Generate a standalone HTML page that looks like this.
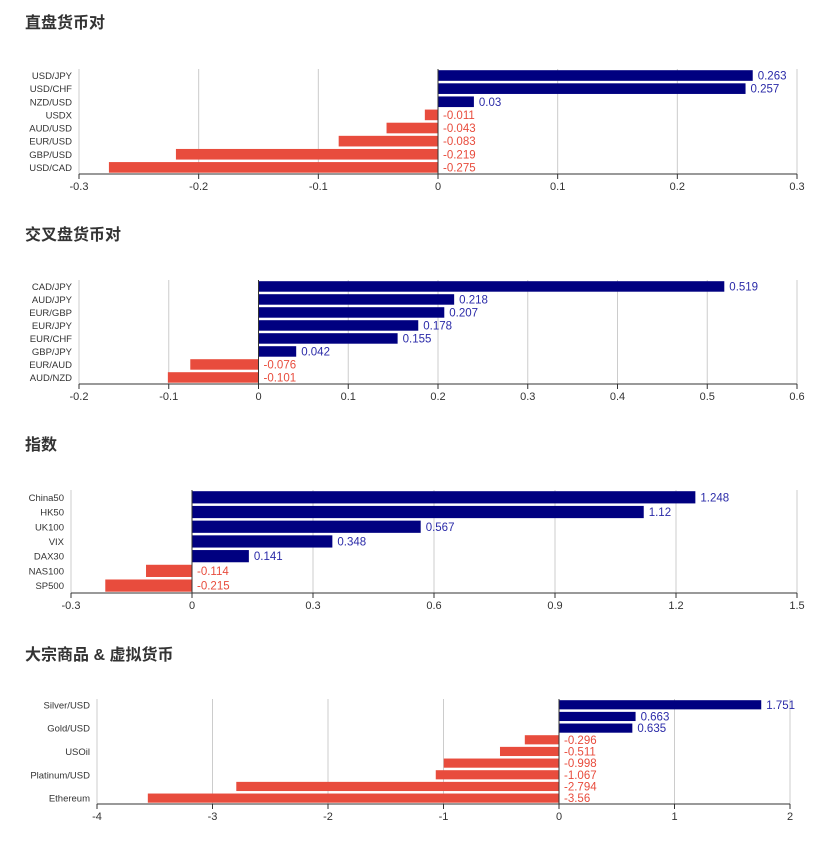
<!DOCTYPE html>
<html><head><meta charset="utf-8"><style>
body{margin:0;background:#fff;width:831px;height:855px;overflow:hidden}
svg{display:block}
</style></head><body>
<svg id="s" width="831" height="855" xmlns="http://www.w3.org/2000/svg" font-family="Liberation Sans, Noto Sans CJK SC, sans-serif">
<text x="25" y="28" font-size="16" font-weight="bold" fill="#333">直盘货币对</text>
<text x="25" y="240" font-size="16" font-weight="bold" fill="#333">交叉盘货币对</text>
<text x="25" y="450" font-size="16" font-weight="bold" fill="#333">指数</text>
<text x="25" y="660" font-size="16" font-weight="bold" fill="#333">大宗商品 &amp; 虚拟货币</text>
</svg>
<script>
var s=document.getElementById('s'),NS='http://www.w3.org/2000/svg';
function el(t,a,txt){var e=document.createElementNS(NS,t);for(var k in a)e.setAttribute(k,a[k]);if(txt!=null)e.textContent=txt;s.appendChild(e);return e;}
function chart(c){
 var x0=c.x0,x1=c.x1,top=c.top,bot=c.bot,n=c.data.length,rh=(bot-top)/n;
 function X(v){return x0+(v-c.min)/(c.max-c.min)*(x1-x0);}
 var zx=X(0);
 for(var i=0;i<c.ticks.length;i++){var t=c.ticks[i],tx=X(t);
  el('line',{x1:tx,x2:tx,y1:top,y2:bot,stroke:'#ccc','stroke-width':1});
  el('line',{x1:tx,x2:tx,y1:bot,y2:bot+5,stroke:'#333','stroke-width':1});
  el('text',{x:tx,y:bot+16,'font-size':11,fill:'#333','text-anchor':'middle'},String(t));}
 el('line',{x1:x0,x2:x1,y1:bot,y2:bot,stroke:'#333','stroke-width':1});
 for(var j=0;j<n;j++){var d=c.data[j],v=d[1],y=top+j*rh,bh=rh-2.5,by=y+1.2;
  var bx=Math.min(X(v),zx),bw=Math.abs(X(v)-zx);
  var col=v>=0?'#000080':'#e84c3d';
  el('rect',{x:bx,y:by,width:bw,height:bh,fill:col});
  var lx=v>=0?X(v)+5:zx+5;
  el('text',{x:lx,y:y+rh/2+4,'font-size':11.5,fill:v>=0?'#2a2aa8':'#e84c3d'},String(v));
  if(d[0])el('text',{x:x0-7,y:y+rh/2+3.5,'font-size':9.5,fill:'#333','text-anchor':'end'},d[0]);}
 el('line',{x1:zx,x2:zx,y1:top,y2:bot,stroke:'#333','stroke-width':1});
}
chart({x0:79,x1:797,top:69,bot:174,min:-0.3,max:0.3,ticks:[-0.3,-0.2,-0.1,0,0.1,0.2,0.3],
 data:[['USD/JPY',0.263],['USD/CHF',0.257],['NZD/USD',0.03],['USDX',-0.011],['AUD/USD',-0.043],['EUR/USD',-0.083],['GBP/USD',-0.219],['USD/CAD',-0.275]]});
chart({x0:79,x1:797,top:280,bot:384,min:-0.2,max:0.6,ticks:[-0.2,-0.1,0,0.1,0.2,0.3,0.4,0.5,0.6],
 data:[['CAD/JPY',0.519],['AUD/JPY',0.218],['EUR/GBP',0.207],['EUR/JPY',0.178],['EUR/CHF',0.155],['GBP/JPY',0.042],['EUR/AUD',-0.076],['AUD/NZD',-0.101]]});
chart({x0:71,x1:797,top:490,bot:593,min:-0.3,max:1.5,ticks:[-0.3,0,0.3,0.6,0.9,1.2,1.5],
 data:[['China50',1.248],['HK50',1.12],['UK100',0.567],['VIX',0.348],['DAX30',0.141],['NAS100',-0.114],['SP500',-0.215]]});
chart({x0:97,x1:790,top:699,bot:804,min:-4,max:2,ticks:[-4,-3,-2,-1,0,1,2],
 data:[['Silver/USD',1.751],['',0.663],['Gold/USD',0.635],['',-0.296],['USOil',-0.511],['',-0.998],['Platinum/USD',-1.067],['',-2.794],['Ethereum',-3.56]]});
</script>
</body></html>
